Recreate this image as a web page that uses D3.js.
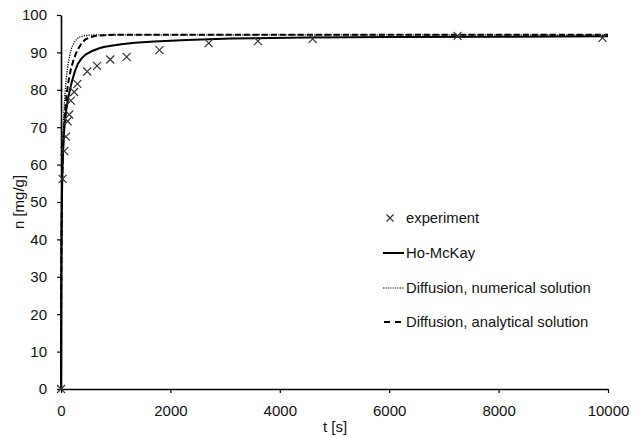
<!DOCTYPE html>
<html><head><meta charset="utf-8">
<script src="https://cdn.jsdelivr.net/npm/d3@7"></script>
<style>body{margin:0;background:#fff}svg{display:block}text{font-family:"Liberation Sans",Arial,sans-serif;fill:#111}</style>
</head><body><svg id="c" width="638" height="437"></svg>
<script>
const expT = [0,30,60,90,120,150,180,240,300,480,660,900,1200,1800,2700,3600,4600,7250,9900];
const expN = [0,56.2,63.6,67.5,71.6,73.4,77.1,79.4,81.6,84.9,86.4,88.1,88.8,90.6,92.5,93.0,93.6,94.4,93.9];

const hoT = [0,3,6,10,15,20,30,45,60,80,100,134,164,195,255,310,377,450,560,700,800,1100,1350,1700,2300,3100,4500,6000,8000,10000];
const hoN = [0,18,30,40,48,54,60,66,69.5,72.5,75,78,80,82,85,87,88.4,89.4,90.3,91.1,91.5,92.2,92.6,92.9,93.3,93.7,94.0,94.1,94.2,94.3];

const numT = [0,3,6,10,15,20,30,45,60,80,100,130,164,200,255,320,400,500,700,1000,10000];
const numN = [0,28,38,47,55,60,66,72,76,80.5,83.5,87,89.5,91.5,93,94,94.4,94.6,94.7,94.7,94.7];

const anaT = [0,3,6,10,15,20,30,45,60,80,100,134,180,225,270,316,380,440,520,620,800,1000,10000];
const anaN = [0,24,34,42,50,55,61,67,71,75,78.5,82,85.5,87.8,89.6,91,92.5,93.4,94,94.4,94.6,94.7,94.7];

const xTicks = [0,2000,4000,6000,8000,10000];
const yTicks = [0,10,20,30,40,50,60,70,80,90,100];

const FS = 15;
const svg = d3.select("#c");
const x = d3.scaleLinear().domain([0,10000]).range([61,608]);
const y = d3.scaleLinear().domain([0,100]).range([389,15]);

const xa = svg.append("g").attr("transform","translate(0,389)")
  .call(d3.axisBottom(x).tickValues(xTicks).tickSize(4).tickSizeOuter(0).tickPadding(12).tickFormat(d3.format("d")));
const ya = svg.append("g").attr("transform","translate(61,0)")
  .call(d3.axisLeft(y).tickValues(yTicks).tickSize(4).tickSizeOuter(0).tickPadding(10));
[xa,ya].forEach(a=>{
  a.select(".domain").attr("stroke","#000").attr("stroke-width",1.6);
  a.selectAll(".tick line").attr("stroke","#000").attr("stroke-width",1.2);
  a.selectAll(".tick text").attr("font-size",FS).attr("fill","#111").style("font-family",'"Liberation Sans",Arial,sans-serif');
});

svg.append("text").attr("x",335).attr("y",432).attr("text-anchor","middle").attr("font-size",FS).text("t [s]");
svg.append("text").attr("transform","translate(24,202) rotate(-90)").attr("text-anchor","middle").attr("font-size",FS).text("n [mg/g]");

const line = d3.line().x(d=>x(d[0])).y(d=>y(d[1]));
const zip = (a,b)=>a.map((v,i)=>[v,b[i]]);

svg.append("path").datum(zip(numT,numN)).attr("d",line).attr("fill","none").attr("stroke","#000").attr("stroke-width",1.3).attr("stroke-dasharray","1.2,1.2");
svg.append("path").datum(zip(anaT,anaN)).attr("d",line).attr("fill","none").attr("stroke","#000").attr("stroke-width",2).attr("stroke-dasharray","6,3");
svg.append("path").datum(zip(hoT,hoN)).attr("d",line).attr("fill","none").attr("stroke","#000").attr("stroke-width",2);

const cross = (g,cx,cy,s)=>{
  g.append("path").attr("d",`M${cx-s},${cy-s}L${cx+s},${cy+s}M${cx-s},${cy+s}L${cx+s},${cy-s}`)
   .attr("stroke","#333").attr("stroke-width",1.2).attr("fill","none");
};
const pts = svg.append("g");
zip(expT,expN).forEach(d=>cross(pts,x(d[0]),y(d[1]),4));

// legend
const LF = 14.8;
const lg = svg.append("g");
cross(lg,390,218,3.5);
lg.append("text").attr("x",406).attr("y",223).attr("font-size",LF).text("experiment");
lg.append("line").attr("x1",383).attr("x2",404).attr("y1",253).attr("y2",253).attr("stroke","#000").attr("stroke-width",2);
lg.append("text").attr("x",406).attr("y",258).attr("font-size",LF).text("Ho-McKay");
lg.append("line").attr("x1",383).attr("x2",404).attr("y1",288).attr("y2",288).attr("stroke","#000").attr("stroke-width",1.2).attr("stroke-dasharray","1.2,1.2");
lg.append("text").attr("x",406).attr("y",293).attr("font-size",LF).text("Diffusion, numerical solution");
lg.append("line").attr("x1",384).attr("x2",402).attr("y1",322).attr("y2",322).attr("stroke","#000").attr("stroke-width",2).attr("stroke-dasharray","6,5");
lg.append("text").attr("x",406).attr("y",327).attr("font-size",LF).text("Diffusion, analytical solution");
</script></body></html>
